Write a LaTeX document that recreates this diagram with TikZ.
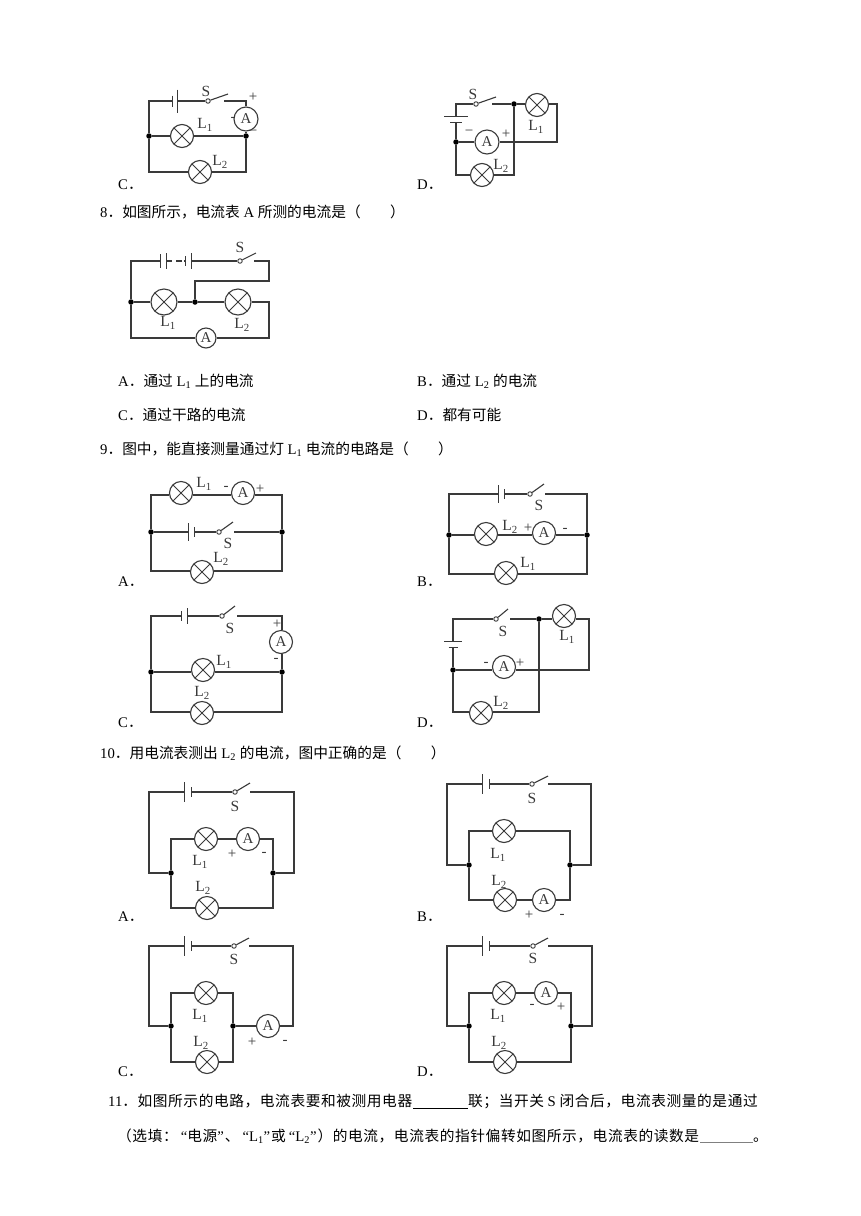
\documentclass[tikz,border=0pt]{standalone}
\usepackage{fontspec}
\setmainfont{Liberation Serif}
\newfontfamily\cjk{Noto Sans CJK SC}
\newfontfamily\cjkw[LetterSpace=4]{Noto Sans CJK SC}
\definecolor{ink}{HTML}{3A3A3A}
\newcommand\LL[1]{L\textsubscript{#1}}
\newcommand\opq{\hspace{3pt}“}
\newcommand\clq{”\hspace{1pt}}
\tikzset{
  wire/.style={draw=ink,line width=1.1pt},
  lamp/.style={circle,draw=ink,line width=1.1pt,fill=white,minimum size=#1,inner sep=0pt,
    path picture={\draw[ink,line width=1pt] (path picture bounding box.north west)--(path picture bounding box.south east)
      (path picture bounding box.north east)--(path picture bounding box.south west);}},
  lamp/.default=23pt,
  meter/.style={circle,draw=ink,line width=1.1pt,fill=white,minimum size=#1,inner sep=0pt,font=\fontsize{15}{15}\selectfont,text=ink},
  meter/.default=23pt,
  dot/.style={circle,fill=black,minimum size=5.5pt,inner sep=0pt},
  pivot/.style={circle,draw=ink,line width=0.9pt,fill=white,minimum size=4.5pt,inner sep=0pt},
  lb/.style={inner sep=0pt,text=ink,font=\fontsize{15.5}{16}\selectfont},
  sg/.style={inner sep=0pt,text=ink,font=\fontsize{15}{15}\selectfont},
  opt/.style={inner sep=0pt,anchor=base west,text=black,font=\fontsize{14.7}{16}\selectfont},
  batcore/.style={rectangle,inner sep=0pt,minimum height=1pt}
}
% name, x, y, gap, half height of left plate, half height of right plate
\newcommand\batH[6]{\node[batcore,minimum width=#4pt] (#1) at (#2,#3) {};
  \draw[wire] (#1.west) ++(0,-#5) -- ++(0,2*#5);
  \draw[wire] (#1.east) ++(0,-#6) -- ++(0,2*#6);}
% name, x, y, gap, half width of upper plate, half width of lower plate
\newcommand\batV[6]{\node[batcore,minimum height=#4pt,minimum width=1pt] (#1) at (#2,#3) {};
  \draw[wire] (#1.north) ++(-#5,0) -- ++(2*#5,0);
  \draw[wire] (#1.south) ++(-#6,0) -- ++(2*#6,0);}
% name, x, y, tip x, tip y
\newcommand\swH[5]{\node[pivot] (#1) at (#2,#3) {};
  \coordinate (#1tip) at (#4,#5);
  \draw[wire] (#1) -- (#1tip);}
\begin{document}
\begin{tikzpicture}[x=1pt,y=-1pt]
\useasboundingbox (0,0) rectangle (860,1216);
\fill[white] (0,0) rectangle (860,1216);

% ---------- 7 C
\coordinate (ctl) at (149,101); \coordinate (ctr) at (246,101);
\coordinate (cbl) at (149,172); \coordinate (cbr) at (246,172);
\coordinate (csr) at (224,101);
\batH{cb}{175}{101}{5}{5.5}{11.5}
\swH{cs}{208}{101}{228}{94}
\node[meter=24pt] (cA) at (246,119) {A};
\node[dot] (cjl) at (149,136) {}; \node[dot] (cjr) at (246,136) {};
\node[lamp] (cL1) at (182,136) {}; \node[lamp] (cL2) at (200,172) {};
\draw[wire] (cb.west) -- (ctl) -- (cjl) -- (cbl) -- (cL2) -- (cbr) -- (cjr) -- (cA) -- (ctr) -- (csr);
\draw[wire] (cb.east) -- (cs);
\draw[wire] (cjl) -- (cL1) -- (cjr);
\node[lb] (cS) at (206,91) {S}; \node[lb] (cl1) at (205,125) {\LL1}; \node[lb] (cl2) at (220,162) {\LL2};
\node[sg] (cp) at (253,97) {+}; \node[sg] (cm) at (253,133) {−}; \node[sg] (cm2) at (233,119) {-};
\node[opt] (copt) at (118,189) {C{\cjk ．}};

% ---------- 7 D
\coordinate (dtl) at (456,104); \coordinate (dtr) at (557,104); \coordinate (dmr) at (557,142);
\coordinate (dbl) at (456,175); \coordinate (dbr) at (514,175); \coordinate (dsr) at (492,104);
\batV{db}{456}{119.5}{5}{12}{6}
\swH{ds}{476}{104}{496}{97}
\node[dot] (dj) at (514,104) {}; \node[dot] (djl) at (456,142) {};
\node[lamp] (dL1) at (537,105) {}; \node[lamp] (dL2) at (482,175) {};
\node[meter=24pt] (dA) at (487,142) {A};
\draw[wire] (db.north) -- (dtl) -- (ds);
\draw[wire] (dsr) -- (dj) -- (dL1.west |- dj);
\draw[wire] (dL1.east |- dj) -- (dtr) -- (dmr) -- (dA) -- (djl);
\draw[wire] (db.south) -- (djl) -- (dbl) -- (dL2) -- (dbr) -- (dj);
\node[lb] (dS) at (473,94) {S}; \node[lb] (dl1) at (536,127) {\LL1}; \node[lb] (dl2) at (501,166) {\LL2};
\node[sg] (dm) at (469,133) {−}; \node[sg] (dp) at (506,134) {+};
\node[opt] (dopt) at (417,189) {D{\cjk ．}};

% ---------- 8
\node[opt] (q8) at (100,217) {8{\cjk ．如图所示，电流表} A {\cjk 所测的电流是（　　）}};
\coordinate (etl) at (131,261); \coordinate (etr) at (269,261); \coordinate (em1) at (269,281);
\coordinate (em2) at (195,281); \coordinate (ebl) at (131,338); \coordinate (ebr) at (269,338);
\coordinate (emr) at (269,302); \coordinate (esr) at (254,261);
\coordinate (ed1) at (172,261); \coordinate (ed2) at (182,261); \coordinate (ed3) at (184,261);
\batH{eb1}{163.5}{261}{5}{7}{8}
\batH{eb2}{188.5}{261}{5}{5}{8}
\swH{es}{240}{261}{256}{253}
\node[dot] (ejl) at (131,302) {}; \node[dot] (ejm) at (195,302) {};
\node[lamp=26pt] (eL1) at (164,302) {}; \node[lamp=26pt] (eL2) at (238,302) {};
\node[meter=20pt] (eA) at (206,338) {A};
\draw[wire] (eb1.west) -- (etl) -- (ejl) -- (ebl) -- (eA) -- (ebr) -- (emr) -- (eL2) -- (ejm) -- (eL1) -- (ejl);
\draw[wire] (eb1.east) -- (ed1); \draw[wire] (ed1) ++(4,0) -- (ed2); \draw[wire] (ed3) -- (eb2.west);
\draw[wire] (eb2.east) -- (es);
\draw[wire] (esr) -- (etr) -- (em1) -- (em2) -- (ejm);
\node[lb] (eS) at (240,247) {S}; \node[lb] (el1) at (168,323) {\LL1}; \node[lb] (el2) at (242,325) {\LL2};
\node[opt] (o8a) at (118,386) {A{\cjk ．通过} \LL1 {\cjk 上的电流}};
\node[opt] (o8b) at (417,386) {B{\cjk ．通过} \LL2 {\cjk 的电流}};
\node[opt] (o8c) at (118,420) {C{\cjk ．通过干路的电流}};
\node[opt] (o8d) at (417,420) {D{\cjk ．都有可能}};

% ---------- 9
\node[opt] (q9) at (100,454) {9{\cjk ．图中，能直接测量通过灯} \LL1 {\cjk 电流的电路是（　　）}};

% 9A
\coordinate (ftl) at (151,495); \coordinate (ftr) at (282,495); \coordinate (fbl) at (151,571); \coordinate (fbr) at (282,571);
\coordinate (fsr) at (234,532);
\batH{fb}{191.5}{532}{5}{9}{5}
\swH{fs}{219}{532}{233}{522}
\node[dot] (fjl) at (151,532) {}; \node[dot] (fjr) at (282,532) {};
\node[lamp] (fL1) at (181,493) {}; \node[lamp] (fL2) at (202,572) {};
\node[meter] (fA) at (243,493) {A};
\draw[wire] (fjl) -- (ftl) -- (fL1.west |- ftl);
\draw[wire] (fL1.east |- ftl) -- (fA.west |- ftl);
\draw[wire] (fA.east |- ftl) -- (ftr) -- (fjr) -- (fbr) -- (fL2.east |- fbr);
\draw[wire] (fL2.west |- fbr) -- (fbl) -- (fjl);
\draw[wire] (fjl) -- (fb.west); \draw[wire] (fb.east) -- (fs); \draw[wire] (fsr) -- (fjr);
\node[lb] (fS) at (228,543) {S}; \node[lb] (fl1) at (204,484) {\LL1}; \node[lb] (fl2) at (221,559) {\LL2};
\node[sg] (fm) at (226,488) {-}; \node[sg] (fp) at (260,489) {+};
\node[opt] (fopt) at (118,586) {A{\cjk ．}};

% 9B
\coordinate (gtl) at (449,494); \coordinate (gtr) at (587,494); \coordinate (gbl) at (449,574); \coordinate (gbr) at (587,574);
\coordinate (gsr) at (545,494);
\batH{gb}{501.5}{494}{5}{9}{5}
\swH{gs}{530}{494}{544}{484}
\node[dot] (gjl) at (449,535) {}; \node[dot] (gjr) at (587,535) {};
\node[lamp] (gL2) at (486,534) {}; \node[lamp] (gL1) at (506,573) {};
\node[meter] (gA) at (544,533) {A};
\draw[wire] (gb.west) -- (gtl) -- (gjl) -- (gbl) -- (gL1.west |- gbl);
\draw[wire] (gL1.east |- gbl) -- (gbr) -- (gjr) -- (gtr) -- (gsr);
\draw[wire] (gb.east) -- (gs);
\draw[wire] (gjl) -- (gL2.west |- gjl); \draw[wire] (gL2.east |- gjl) -- (gA.west |- gjl); \draw[wire] (gA.east |- gjl) -- (gjr);
\node[lb] (gS) at (539,505) {S}; \node[lb] (gl2) at (510,527) {\LL2}; \node[lb] (gl1) at (528,564) {\LL1};
\node[sg] (gp) at (528,528) {+}; \node[sg] (gm) at (565,530) {-};
\node[opt] (gopt) at (417,586) {B{\cjk ．}};

% 9C
\coordinate (htl) at (151,616); \coordinate (htr) at (282,616); \coordinate (hbl) at (151,712); \coordinate (hbr) at (282,712);
\coordinate (hsr) at (237,616);
\batH{hb}{184.5}{616}{5}{5}{8}
\swH{hs}{222}{616}{235}{606}
\node[dot] (hjl) at (151,672) {}; \node[dot] (hjr) at (282,672) {};
\node[lamp] (hL1) at (203,670) {}; \node[lamp] (hL2) at (202,713) {};
\node[meter] (hA) at (281,642) {A};
\draw[wire] (hb.west) -- (htl) -- (hjl) -- (hbl) -- (hL2.west |- hbl);
\draw[wire] (hL2.east |- hbl) -- (hbr) -- (hjr) -- (hA.south -| hjr);
\draw[wire] (hA.north -| hjr) -- (htr) -- (hsr);
\draw[wire] (hb.east) -- (hs);
\draw[wire] (hjl) -- (hL1.west |- hjl); \draw[wire] (hL1.east |- hjl) -- (hjr);
\node[lb] (hS) at (230,628) {S}; \node[lb] (hl1) at (224,662) {\LL1}; \node[lb] (hl2) at (202,693) {\LL2};
\node[sg] (hp) at (277,624) {+}; \node[sg] (hm) at (276,660) {-};
\node[opt] (hopt) at (118,727) {C{\cjk ．}};

% 9D
\coordinate (itl) at (453,619); \coordinate (itr) at (589,619); \coordinate (imr) at (589,670);
\coordinate (ibl) at (453,712); \coordinate (ibr) at (539,712); \coordinate (isr) at (510,619);
\batV{ib}{453}{644.5}{5}{9}{4.5}
\swH{is}{496}{619}{508}{609}
\node[dot] (ij) at (539,619) {}; \node[dot] (ijl) at (453,670) {};
\node[lamp] (iL1) at (564,616) {}; \node[lamp] (iL2) at (481,713) {};
\node[meter] (iA) at (504,667) {A};
\draw[wire] (ib.north) -- (itl) -- (is); \draw[wire] (isr) -- (ij) -- (iL1.west |- ij);
\draw[wire] (iL1.east |- ij) -- (itr) -- (imr) -- (iA.east |- imr);
\draw[wire] (iA.west |- imr) -- (ijl);
\draw[wire] (ib.south) -- (ijl) -- (ibl) -- (iL2.west |- ibl); \draw[wire] (iL2.east |- ibl) -- (ibr) -- (ij);
\node[lb] (iS) at (503,631) {S}; \node[lb] (il1) at (567,637) {\LL1}; \node[lb] (il2) at (501,703) {\LL2};
\node[sg] (im) at (486,664) {-}; \node[sg] (ip) at (520,663) {+};
\node[opt] (iopt) at (417,727) {D{\cjk ．}};

% ---------- 10
\node[opt] (q10) at (100,758) {10{\cjk ．用电流表测出} \LL2 {\cjk 的电流，图中正确的是（　　）}};

% 10A
\coordinate (jol) at (149,792); \coordinate (jor) at (294,792); \coordinate (jbl) at (149,873); \coordinate (jbr) at (294,873);
\coordinate (jtl) at (171,839); \coordinate (jtr) at (273,839); \coordinate (jil) at (171,908); \coordinate (jir) at (273,908);
\coordinate (jsr) at (250,792);
\batH{jb}{188}{792}{6}{10}{5}
\swH{js}{235}{792}{250}{783}
\node[dot] (jjl) at (171,873) {}; \node[dot] (jjr) at (273,873) {};
\node[lamp] (jL1) at (206,839) {}; \node[lamp] (jL2) at (207,908) {};
\node[meter] (jA) at (248,839) {A};
\draw[wire] (jb.west) -- (jol) -- (jbl) -- (jjl) -- (jtl) -- (jL1) -- (jA) -- (jtr) -- (jjr) -- (jbr) -- (jor) -- (jsr);
\draw[wire] (jb.east) -- (js);
\draw[wire] (jjl) -- (jil) -- (jL2) -- (jir) -- (jjr);
\node[lb] (jS) at (235,806) {S}; \node[lb] (jl1) at (200,862) {\LL1}; \node[lb] (jl2) at (203,888) {\LL2};
\node[sg] (jp) at (232,854) {+}; \node[sg] (jm) at (264,854) {-};
\node[opt] (jopt) at (118,921) {A{\cjk ．}};

% 10B
\coordinate (kol) at (447,784); \coordinate (kor) at (591,784); \coordinate (kbl) at (447,865); \coordinate (kbr) at (591,865);
\coordinate (ktl) at (469,831); \coordinate (ktr) at (570,831); \coordinate (kil) at (469,900); \coordinate (kir) at (570,900);
\coordinate (ksr) at (548,784);
\batH{kb}{486}{784}{6}{10}{5}
\swH{ks}{532}{784}{548}{776}
\node[dot] (kjl) at (469,865) {}; \node[dot] (kjr) at (570,865) {};
\node[lamp] (kL1) at (504,831) {}; \node[lamp] (kL2) at (505,900) {};
\node[meter] (kA) at (544,900) {A};
\draw[wire] (kb.west) -- (kol) -- (kbl) -- (kjl) -- (ktl) -- (kL1) -- (ktr) -- (kjr) -- (kbr) -- (kor) -- (ksr);
\draw[wire] (kb.east) -- (ks);
\draw[wire] (kjl) -- (kil) -- (kL2) -- (kA) -- (kir) -- (kjr);
\node[lb] (kS) at (532,798) {S}; \node[lb] (kl1) at (498,855) {\LL1}; \node[lb] (kl2) at (499,882) {\LL2};
\node[sg] (kp) at (529,915) {+}; \node[sg] (km) at (562,916) {-};
\node[opt] (kopt) at (417,921) {B{\cjk ．}};

% 10C
\coordinate (lol) at (149,946); \coordinate (lor) at (293,946); \coordinate (lbl) at (149,1026); \coordinate (lbr) at (293,1026);
\coordinate (ltl) at (171,993); \coordinate (ltr) at (233,993); \coordinate (lil) at (171,1062); \coordinate (lir) at (233,1062);
\coordinate (lsr) at (249,946);
\batH{lb}{188}{946}{6}{10}{5}
\swH{ls}{234}{946}{249}{938}
\node[dot] (ljl) at (171,1026) {}; \node[dot] (ljr) at (233,1026) {};
\node[lamp] (lL1) at (206,993) {}; \node[lamp] (lL2) at (207,1062) {};
\node[meter] (lA) at (268,1026) {A};
\draw[wire] (lb.west) -- (lol) -- (lbl) -- (ljl) -- (ltl) -- (lL1) -- (ltr) -- (ljr) -- (lA) -- (lbr) -- (lor) -- (lsr);
\draw[wire] (lb.east) -- (ls);
\draw[wire] (ljl) -- (lil) -- (lL2) -- (lir) -- (ljr);
\node[lb] (lS) at (234,959) {S}; \node[lb] (ll1) at (200,1016) {\LL1}; \node[lb] (ll2) at (201,1043) {\LL2};
\node[sg] (lp) at (252,1042) {+}; \node[sg] (lm) at (285,1042) {-};
\node[opt] (lopt) at (118,1076) {C{\cjk ．}};

% 10D
\coordinate (mol) at (447,946); \coordinate (mor) at (592,946); \coordinate (mbl) at (447,1026); \coordinate (mbr) at (592,1026);
\coordinate (mtl) at (469,993); \coordinate (mtr) at (571,993); \coordinate (mil) at (469,1062); \coordinate (mir) at (571,1062);
\coordinate (msr) at (548,946);
\batH{mb}{486}{946}{6}{10}{5}
\swH{ms}{533}{946}{548}{938}
\node[dot] (mjl) at (469,1026) {}; \node[dot] (mjr) at (571,1026) {};
\node[lamp] (mL1) at (504,993) {}; \node[lamp] (mL2) at (505,1062) {};
\node[meter] (mA) at (546,993) {A};
\draw[wire] (mb.west) -- (mol) -- (mbl) -- (mjl) -- (mtl) -- (mL1) -- (mA) -- (mtr) -- (mjr) -- (mbr) -- (mor) -- (msr);
\draw[wire] (mb.east) -- (ms);
\draw[wire] (mjl) -- (mil) -- (mL2) -- (mir) -- (mjr);
\node[lb] (mS) at (533,958) {S}; \node[lb] (ml1) at (498,1016) {\LL1}; \node[lb] (ml2) at (499,1043) {\LL2};
\node[sg] (mm) at (532,1006) {-}; \node[sg] (mp) at (561,1007) {+};
\node[opt] (mopt) at (417,1076) {D{\cjk ．}};

% ---------- 11
\node[opt] (q11a) at (108,1106) {11{\cjkw ．如图所示的电路，电流表要和被测用电器}};
\coordinate (u1a) at (413,1108); \coordinate (u1b) at (468,1108);
\draw[black,line width=0.8pt] (u1a) -- (u1b);
\node[opt] (q11b) at (468,1106) {{\cjkw 联；当开关} S {\cjkw 闭合后，电流表测量的是通过}};
\node[opt] (q11c) at (117,1141) {{\cjkw （选填：}\opq{\cjkw 电源}\clq{\cjkw 、}\opq\LL1\clq{\cjkw 或}\opq\LL2\clq{\cjkw ）的电流，电流表的指针偏转如图所示，电流表的读数是}};
\coordinate (u2a) at (700,1142.5); \coordinate (u2b) at (753,1142.5);
\draw[gray,line width=1.2pt] (u2a) -- (u2b);
\node[opt] (q11d) at (753,1141) {{\cjk 。}};
\end{tikzpicture}
\end{document}
